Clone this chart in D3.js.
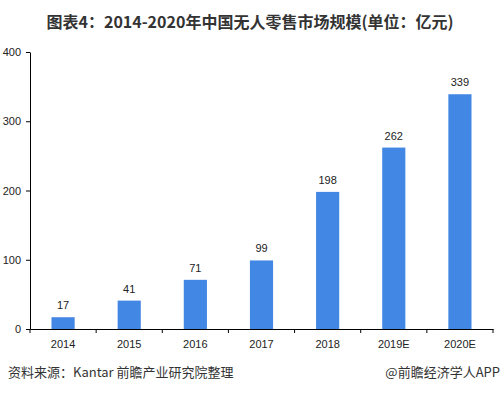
<!DOCTYPE html>
<html><head><meta charset="utf-8">
<script src="https://cdn.jsdelivr.net/npm/d3@7"></script>
<style>body{margin:0;background:#fff;}svg{display:block;font-family:Arial,"Liberation Sans","Noto Sans CJK SC",sans-serif;}</style>
</head><body>
<script>
const categories = ["2014","2015","2016","2017","2018","2019E","2020E"];
const values = [17,41,71,99,198,262,339];
const yTicks = [0,100,200,300,400];

const W=501,H=393;
const svg=d3.select("body").append("svg").attr("width",W).attr("height",H);
const x=d3.scaleBand().domain(categories).range([30,493]).paddingInner(0.65).paddingOuter(0.325);
const y=d3.scaleLinear().domain([0,400]).range([329,52]);

svg.append("text").attr("x",250).attr("y",28).attr("text-anchor","middle")
  .attr("font-size",16).attr("font-weight","bold").attr("fill","#333")
  .attr("font-family","'Noto Sans CJK SC',sans-serif").text("图表4：2014-2020年中国无人零售市场规模(单位：亿元)");

svg.selectAll("rect.bar").data(values).enter().append("rect")
  .attr("x",(d,i)=>x(categories[i])).attr("width",x.bandwidth())
  .attr("y",d=>y(d)).attr("height",d=>y(0)-y(d)).attr("fill","#4287e3");

svg.selectAll("text.val").data(values).enter().append("text")
  .attr("x",(d,i)=>x(categories[i])+x.bandwidth()/2).attr("y",d=>y(d)-8)
  .attr("text-anchor","middle").attr("font-size",11).attr("fill","#222").text(d=>d);

const ya=svg.append("g").attr("transform","translate(30,0)")
  .call(d3.axisLeft(y).tickValues(yTicks).tickSize(4).tickPadding(5).tickSizeOuter(0));
const xa=svg.append("g").attr("transform","translate(0,329)")
  .call(d3.axisBottom(x).tickSize(0).tickPadding(11));
const bounds=[30].concat(categories.map(c=>x(c)-x.step()*x.paddingInner()/2+x.step()));
xa.selectAll("line.bt").data(bounds).enter().append("line").attr("class","bt")
  .attr("x1",d=>d).attr("x2",d=>d).attr("y1",0).attr("y2",4).attr("stroke","#000");
[ya,xa].forEach(a=>{a.selectAll("text").attr("font-size",11).attr("fill","#222").attr("font-family","Arial,'Liberation Sans',sans-serif");
  a.selectAll("path,line").attr("stroke","#000");});

svg.append("text").attr("x",8).attr("y",377).attr("font-size",13).attr("fill","#333")
  .attr("font-family","'Noto Sans CJK SC',sans-serif").text("资料来源：Kantar 前瞻产业研究院整理");
svg.append("text").attr("x",500).attr("y",377).attr("text-anchor","end").attr("font-size",13).attr("fill","#333")
  .attr("font-family","'Noto Sans CJK SC',sans-serif").text("@前瞻经济学人APP");
</script>
</body></html>
